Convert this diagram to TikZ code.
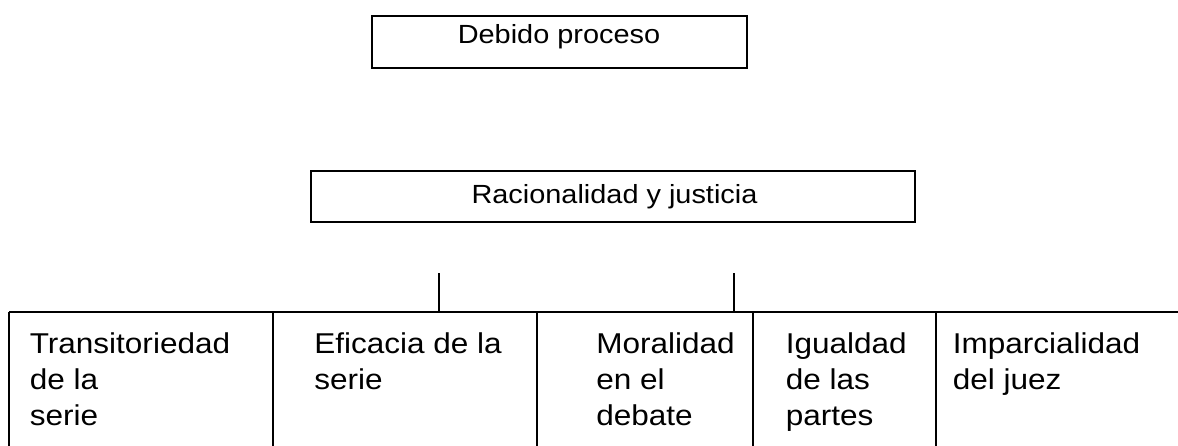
\documentclass[tikz,border=0pt]{standalone}
\usepackage{fontspec}
\newfontfamily\diagfont[FakeStretch=1.1]{Liberation Sans}
\tikzset{
  box/.style={draw, line width=1.5pt, inner sep=0pt, outer sep=0pt},
  headtext/.style={inner sep=0pt, anchor=base, font=\diagfont\fontsize{19.7pt}{24pt}\selectfont},
  celltext/.style={inner sep=0pt, anchor=base west, font=\diagfont\fontsize{21.5pt}{27pt}\selectfont},
  rule/.style={line width=1pt},
}
\newcommand{\celllines}[1]{\renewcommand{\arraystretch}{1}\begin{tabular}[t]{@{}l@{}}#1\end{tabular}}
\begin{document}
\begin{tikzpicture}[x=0.75pt,y=-0.75pt]
\useasboundingbox (0,0) rectangle (1178,446);
% top boxes
\node[box, minimum width=281.25pt, minimum height=39pt] (top) at (559.5,42) {};
\node[headtext] (toptext) at (559,43) {Debido proceso};
\node[box, minimum width=453pt, minimum height=38.25pt] (mid) at (613,196.5) {};
\node[headtext] (midtext) at (614.5,203) {Racionalidad y justicia};
% table grid
\coordinate (tl) at (9,312);
\coordinate (tr) at (1178,312);
\draw[rule] (tl) -- (tr);
\foreach \x [count=\i] in {9,273,537,753,936} {
  \coordinate (v\i t) at (\x,312);
  \coordinate (v\i b) at (\x,446);
  \draw[rule] (v\i t) -- (v\i b);
}
% stubs
\coordinate (s1a) at (439,273);
\coordinate (s1b) at (439,312);
\coordinate (s2a) at (734,273);
\coordinate (s2b) at (734,312);
\draw[rule] (s1a) -- (s1b);
\draw[rule] (s2a) -- (s2b);
% cell texts
\node[celltext] (c1) at (29.5,353) {\celllines{Transitoriedad\\de la\\serie}};
\node[celltext] (c2) at (314,353) {\celllines{Eficacia de la\\serie}};
\node[celltext] (c3) at (596,353) {\celllines{Moralidad\\en el\\debate}};
\node[celltext] (c4) at (785.5,353) {\celllines{Igualdad\\de las\\partes}};
\node[celltext] (c5) at (952.5,353) {\celllines{Imparcialidad\\del juez}};
\end{tikzpicture}
\end{document}
